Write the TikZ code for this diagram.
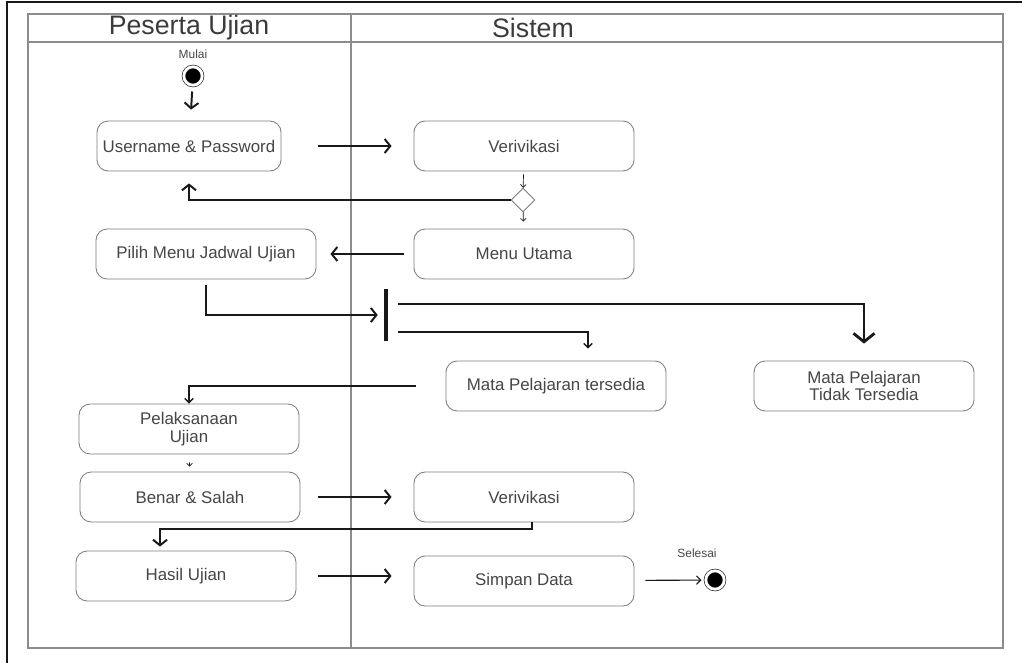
\documentclass[tikz,border=0pt]{standalone}
\usepackage{fontspec}
\setmainfont{Liberation Sans}
\usepackage{tikz}
\usetikzlibrary{shapes.geometric, arrows.meta, positioning, calc}
\definecolor{mydark}{RGB}{25,25,25}
\definecolor{mytext}{RGB}{70,70,70}
\definecolor{mgframe}{RGB}{140,140,140}
\definecolor{myborder}{RGB}{125,125,125}
\tikzset{
  actbox/.style={rectangle, draw=myborder, fill=white, text=mytext,
    minimum width=5.5cm, minimum height=1.25cm, align=center,
    font=\fontsize{12}{12.5}\selectfont, rounded corners=8pt, line width=0.6pt},
  initnode/.style={circle, fill=black, draw=mydark, double=white,
    double distance=2pt, line width=0.45pt, minimum size=0.46cm, inner sep=0pt},
  decnode/.style={diamond, draw=myborder, fill=white, minimum width=0.6cm,
    minimum height=0.6cm, inner sep=0pt, line width=0.6pt},
  forkbar/.style={rectangle, fill=mydark, minimum width=0.1cm,
    minimum height=1.275cm, inner sep=0pt},
  lbl/.style={font=\fontsize{8.5}{9}\selectfont, text=mytext},
  lanehdr/.style={font=\fontsize{19}{19}\selectfont, text=mydark!85},
  lane/.style={draw=mgframe, line width=1pt},
  arrow/.style={-{Straight Barb[length=4pt, width=10pt]}, line width=1.4pt, color=mydark},
  bigarrow/.style={-{Straight Barb[length=6pt, width=15pt]}, line width=2pt, color=mydark},
  midarrow/.style={-{Straight Barb[length=3pt, width=6pt]}, line width=1pt, color=mydark},
  tinyarrow/.style={-{Straight Barb[length=2pt, width=4pt]}, line width=0.5pt, color=mydark},
  thinarrow/.style={-{Straight Barb[length=3pt, width=6pt]}, line width=0.8pt, color=mydark}
}
\begin{document}
\begin{tikzpicture}[x=0.025cm, y=-0.025cm]
  \useasboundingbox (0,0) rectangle (1022,663);
  \draw[color=mydark, line width=1.2pt] (7,663) -- (7,2) -- (1022,2);
  \draw[lane] (28,14) rectangle (1003,648);
  \draw[lane] (28,42) -- (1003,42);
  \draw[lane] (351,14) -- (351,648);
  \node[lanehdr] (hpeserta) at (189,28) {Peserta Ujian};
  \node[lanehdr] (hsistem) at (533,28) {Sistem};

  \node[initnode] (mulai) at (193,76) {};
  \node[lbl, above=0.06cm of mulai] (lmulai) {Mulai};
  \node[actbox, minimum width=4.6cm] (userpass) at (189,146) {Username \& Password};
  \node[actbox] (verif1) at (524,146) {Verivikasi};
  \node[decnode] (dec) at (523,200) {};
  \node[actbox] (menu) at (524,254) {Menu Utama};
  \node[actbox] (pilih) at (206,254) {Pilih Menu Jadwal Ujian};
  \node[forkbar] (fork) at (386,315) {};
  \node[actbox] (tersedia) at (556,386) {Mata Pelajaran tersedia};
  \node[actbox] (tidak) at (864,386) {Mata Pelajaran\\Tidak Tersedia};
  \node[actbox] (pelaksanaan) at (189,429) {Pelaksanaan\\Ujian};
  \node[actbox] (benar) at (190,497) {Benar \& Salah};
  \node[actbox] (verif2) at (524,497) {Verivikasi};
  \node[actbox] (hasil) at (186,576) {Hasil Ujian};
  \node[actbox] (simpan) at (524,581) {Simpan Data};
  \node[initnode] (selesai) at (715,580) {};
  \node[lbl] (lselesai) at (697,553) {Selesai};

  \draw[arrow, shorten <=0.15cm, shorten >=0.275cm] (mulai) -- (userpass);
  \draw[arrow, shorten <=0.925cm, shorten >=0.55cm] (userpass) -- (verif1);
  \draw[tinyarrow, shorten <=0.075cm] (verif1) -- (dec);
  \draw[tinyarrow, shorten >=0.175cm] (dec) -- (menu);
  \draw[arrow, shorten >=0.3cm] (dec.west) -| (userpass.south);
  \draw[arrow, shorten <=0.25cm, shorten >=0.35cm] (menu) -- (pilih);
  \draw[arrow, shorten <=0.15cm, shorten >=0.15cm] (pilih.south) |- (fork.west);
  \draw[bigarrow, shorten <=0.25cm, shorten >=0.425cm] ($(fork.east)+(0,-11)$) -| (tidak.north);
  \draw[midarrow, shorten <=0.25cm, shorten >=0.3cm] ($(fork.east)+(0,17)$) -| ($(tersedia.north)+(32,0)$);
  \draw[midarrow, shorten <=0.75cm] (tersedia.west) -| (pelaksanaan.north);
  \draw[tinyarrow, shorten <=0.2cm, shorten >=0.125cm] (pelaksanaan) -- (benar);
  \draw[arrow, shorten <=0.45cm, shorten >=0.55cm] (benar) -- (verif2);
  \draw[arrow, shorten >=0.1cm] ($(verif2.south)+(8,0)$) -- ++(0,7) -| ($(hasil.north)+(-26,0)$);
  \draw[arrow, shorten <=0.55cm, shorten >=0.55cm] (hasil.east) -- (hasil.east -| simpan.west);
  \draw[thinarrow, shorten <=0.275cm, shorten >=0.1cm] (simpan) -- (selesai);
\end{tikzpicture}
\end{document}
